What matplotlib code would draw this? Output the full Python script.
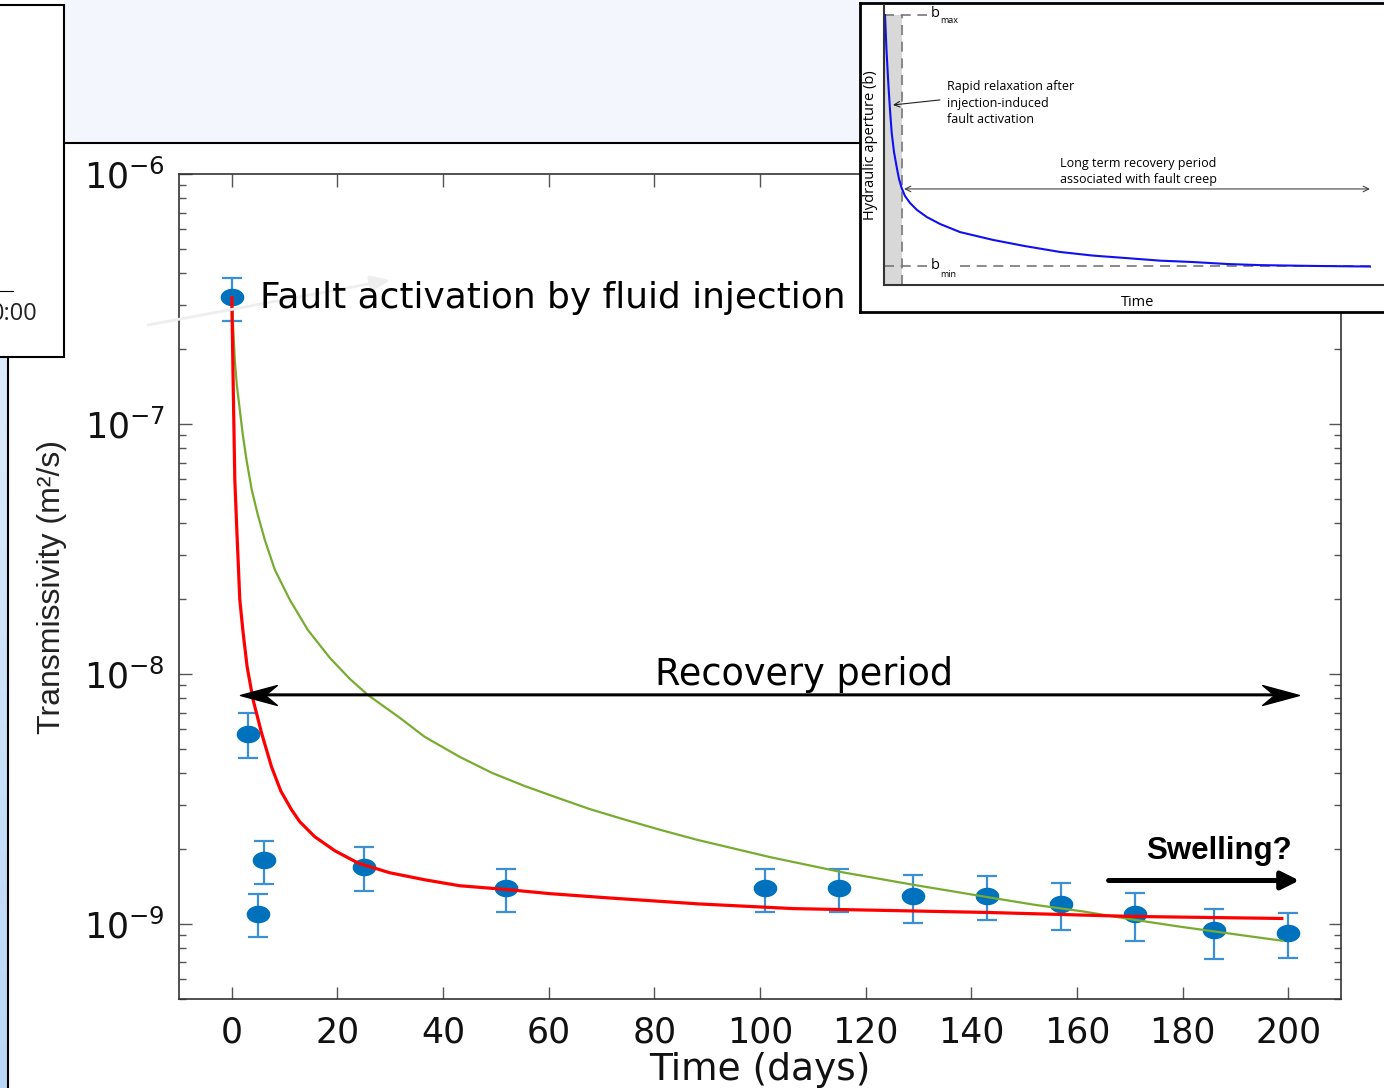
import numpy as np
import matplotlib
matplotlib.use('Agg')
import matplotlib.pyplot as plt
from matplotlib.patches import Rectangle
from matplotlib.lines import Line2D
from matplotlib.path import Path

# ---- data ----
days = [0, 3, 5, 6, 25, 52, 101, 115, 129, 143, 157, 171, 186, 200]
trans = [3.22e-7, 5.75e-9, 1.09e-9, 1.80e-9, 1.68e-9, 1.39e-9, 1.39e-9, 1.39e-9,
         1.29e-9, 1.29e-9, 1.20e-9, 1.09e-9, 9.4e-10, 9.18e-10]
trans_hi = [3.84e-7, 6.96e-9, 1.32e-9, 2.15e-9, 2.02e-9, 1.66e-9, 1.66e-9, 1.66e-9,
            1.56e-9, 1.55e-9, 1.45e-9, 1.33e-9, 1.15e-9, 1.10e-9]
trans_lo = [2.58e-7, 4.60e-9, 8.82e-10, 1.44e-9, 1.35e-9, 1.11e-9, 1.11e-9, 1.11e-9,
            1.01e-9, 1.035e-9, 9.4e-10, 8.55e-10, 7.24e-10, 7.29e-10]

# red fit
red_t = [0, 0.246, 0.568, 0.946, 1.23, 1.51, 2.14, 2.89, 4.03, 5.62, 7.51, 9.27, 11.3,
         12.87, 15.7, 19.5, 23.9, 29.9, 36.5, 43.1, 52.2, 60.2, 71.1, 88.6, 106.3,
         124.5, 142.9, 170.4, 198.8]
red_T = [3.2e-7, 1.50e-7, 5.97e-8, 3.77e-8, 2.73e-8, 1.98e-8, 1.46e-8, 1.07e-8, 7.87e-9,
         5.81e-9, 4.25e-9, 3.40e-9, 2.86e-9, 2.56e-9, 2.23e-9, 1.96e-9, 1.75e-9, 1.60e-9,
         1.50e-9, 1.42e-9, 1.37e-9, 1.32e-9, 1.27e-9, 1.20e-9, 1.15e-9, 1.13e-9, 1.11e-9,
         1.07e-9, 1.05e-9]
# green fit
green_t = [0, 0.284, 0.568, 0.946, 1.51, 2.08, 2.84, 3.78, 4.92, 6.24, 8.14, 10.97, 14.38,
           18.54, 22.33, 25.73, 31.8, 36.5, 43.1, 49.2, 55.4, 61.7, 67.7, 74.4, 81.0, 88.0,
           101.8, 115.4, 129.2, 142.9, 152.1, 161.2, 170.5, 179.6, 189.2, 198.9]
green_T = [3.22e-7, 2.38e-7, 1.80e-7, 1.43e-7, 1.14e-7, 9.04e-8, 7.05e-8, 5.44e-8, 4.33e-8,
           3.44e-8, 2.61e-8, 1.98e-8, 1.50e-8, 1.16e-8, 9.55e-9, 8.24e-9, 6.67e-9, 5.60e-9,
           4.66e-9, 4.02e-9, 3.56e-9, 3.19e-9, 2.88e-9, 2.61e-9, 2.38e-9, 2.17e-9, 1.85e-9,
           1.61e-9, 1.43e-9, 1.28e-9, 1.19e-9, 1.12e-9, 1.04e-9, 9.73e-10, 9.12e-10, 8.55e-10]

# inset sketch curve (arbitrary units)
sketch_t = [0.2, 0.5, 0.86, 1.2, 1.54, 2.0, 2.54, 3.0, 3.54, 4.2, 5.2, 6.6, 8.54, 11.2,
            15.2, 21.8, 28.2, 35.2, 41.8, 48.6, 55.2, 61.8, 68.6, 75.2, 86.2, 97.2]
sketch_b = [0.964, 0.839, 0.721, 0.625, 0.543, 0.475, 0.421, 0.379, 0.346, 0.318, 0.293,
            0.268, 0.243, 0.218, 0.189, 0.161, 0.139, 0.118, 0.105, 0.096, 0.087, 0.082,
            0.075, 0.071, 0.068, 0.066]

W, H = 1384, 1088
plt.rcParams['font.family'] = ['DejaVu Sans']
f_arial = ['Liberation Sans', 'DejaVu Sans']
f_in = ['Open Sans', 'DejaVu Sans']


def fx(x):
    return x / W


def fy(y):
    return 1 - y / H


fig = plt.figure(figsize=(W / 100, H / 100), dpi=100, facecolor='white')

# ---- surrounding page fragments ----
fig.add_artist(Rectangle((fx(64), fy(143)), 1 - fx(64), 143 / H, transform=fig.transFigure,
                         facecolor='#F3F7FD', edgecolor='none', zorder=0))
fig.add_artist(Line2D([fx(64), fx(860)], [fy(143), fy(143)], transform=fig.transFigure,
                      color='black', lw=1.5, zorder=1))
fig.add_artist(Rectangle((fx(-5), fy(357)), fx(69), (357 - 5) / H, transform=fig.transFigure,
                         facecolor='white', edgecolor='black', lw=1.5, zorder=1))
fig.add_artist(Line2D([0, fx(13)], [fy(291), fy(291)], transform=fig.transFigure,
                      color='black', lw=0.8, zorder=2))
fig.text(fx(38), fy(314), '0:00', ha='right', va='center', fontsize=17,
         family=f_in, color='#222222')
strip = fig.add_axes([0, 0, fx(8), (1088 - 357) / H])
strip.imshow(np.linspace(0, 1, 50).reshape(-1, 1), aspect='auto',
             cmap=matplotlib.colors.LinearSegmentedColormap.from_list('s', ['#DCEBFB', '#B9D7F7']))
strip.axis('off')
fig.add_artist(Line2D([fx(8), fx(8)], [0, fy(357)], transform=fig.transFigure,
                      color='black', lw=1.5, zorder=2))

# ---- main axes ----
ax = fig.add_axes([fx(179), fy(999), (1341 - 179) / W, (999 - 174) / H])
ax.set_yscale('log')
ax.set_xlim(-10, 210)
ax.set_ylim(5e-10, 1e-6)
ax.set_xticks(range(0, 201, 20))
ax.tick_params(which='both', direction='in', top=True, right=True, color='#555555')
ax.tick_params(which='major', length=9, width=1)
ax.tick_params(which='minor', length=5, width=1)
ax.tick_params(axis='x', labelsize=25, pad=12, labelcolor='#111111')
ax.tick_params(axis='y', labelsize=25, pad=10, labelcolor='#111111')
for s in ax.spines.values():
    s.set_color('#333333')
    s.set_linewidth(1.2)
ax.set_xlabel('Time (days)', fontsize=27, labelpad=2, color='#111111')

fig.text(fx(52), fy(587), 'Transmissivity (m²/s)', rotation=90, ha='center', va='center',
         fontsize=23, family=f_arial, color='#222222')

ell = np.linspace(0, 2 * np.pi, 60)
ell_marker = Path(np.column_stack([1.38 * np.cos(ell), np.sin(ell)]), closed=True)

t_arr = np.array(trans)
ax.errorbar(days, trans, yerr=[t_arr - np.array(trans_lo), np.array(trans_hi) - t_arr],
            fmt='none', ecolor='#3B8FD3', elinewidth=1.6, capsize=7.5, capthick=1.6, zorder=2)
ax.plot(days, trans, linestyle='none', marker=ell_marker, markersize=16,
        color='#0072BD', zorder=3)
ax.plot(green_t, green_T, color='#77AC30', lw=1.6, zorder=4)
ax.plot(red_t, red_T, color='#FF0000', lw=2.3, zorder=4)

# recovery period double arrow with notched heads
rec_y = 8.24e-9
head_r = Path([(0, 0), (-37, 10), (-25, 0), (-37, -10), (0, 0)], closed=True)
head_l = Path([(0, 0), (37, 10), (25, 0), (37, -10), (0, 0)], closed=True)
ax.annotate('', xy=(200, rec_y), xytext=(3.5, rec_y),
            arrowprops=dict(arrowstyle='-', lw=2.2, color='black', shrinkA=0, shrinkB=0),
            zorder=5)
ax.plot([202], [rec_y], linestyle='none', marker=head_r, markersize=53, color='black',
        zorder=5, clip_on=False)
ax.plot([1.5], [rec_y], linestyle='none', marker=head_l, markersize=53, color='black',
        zorder=5, clip_on=False)
ax.text(108.4, 9.9e-9, 'Recovery period', ha='center', va='center', fontsize=26.4, zorder=5)

ax.annotate('', xy=(202.1, 1.49e-9), xytext=(166, 1.49e-9),
            arrowprops=dict(arrowstyle='-|>,head_length=0.6,head_width=0.3', mutation_scale=18,
                            lw=3.6, color='black', shrinkA=0, shrinkB=0), zorder=5)
ax.text(200.6, 1.96e-9, 'Swelling?', ha='right', va='center', fontsize=22.5,
        fontweight='bold', family=f_arial, zorder=5)
ax.annotate('', xy=(390, H - 280), xycoords='figure pixels', xytext=(148, H - 325),
            textcoords='figure pixels',
            arrowprops=dict(arrowstyle='-|>,head_length=0.6,head_width=0.25', mutation_scale=20,
                            lw=2, color='#EEEEEE', shrinkA=0, shrinkB=0), zorder=4.5)
ax.text(5.3, 3.19e-7, 'Fault activation by fluid injection', ha='left', va='center',
        fontsize=25.8, zorder=6)

# ---- inset sketch ----
box = fig.add_axes([fx(860), fy(312), (1400 - 860) / W, (312 - 3) / H], zorder=10)
box.set_facecolor('white')
box.set_xticks([])
box.set_yticks([])
for s in box.spines.values():
    s.set_linewidth(2)
    s.set_color('black')

ins = fig.add_axes([fx(884), fy(285), (1384 - 884) / W, (285 - 5) / H], zorder=11)
ins.patch.set_alpha(0)
ins.set_xlim(0, 100)
ins.set_ylim(0, 1)
ins.set_xticks([])
ins.set_yticks([])
ins.spines['top'].set_visible(False)
ins.spines['right'].set_visible(False)
for s in ('left', 'bottom'):
    ins.spines[s].set_linewidth(1.5)
    ins.spines[s].set_color('#333333')

ins.fill_between([0, 3.6], 0, 0.964, color='#D8D8D8', lw=0)
dash = dict(color='#777777', lw=1.2, linestyle=(0, (6, 4)))
ins.plot([3.6, 3.6], [0, 0.964], **dash)
ins.plot([0, 8.6], [0.964, 0.964], **dash)
ins.plot([0, 8.6], [0.068, 0.068], **dash)
ins.plot([15.2, 97.2], [0.068, 0.068], **dash)
ins.plot(sketch_t, sketch_b, color='#1010F0', lw=1.5)
ins.text(9.4, 0.971, 'b', ha='left', va='center', fontsize=10.5, family=f_in)
ins.text(11.2, 0.943, 'max', ha='left', va='center', fontsize=6.5, family=f_in)
ins.text(9.4, 0.068, 'b', ha='left', va='center', fontsize=10.5, family=f_in)
ins.text(11.2, 0.039, 'min', ha='left', va='center', fontsize=6.5, family=f_in)
ins.annotate('', xy=(1.8, 0.643), xytext=(11.2, 0.661),
             arrowprops=dict(arrowstyle='->', lw=0.8, color='#222222', shrinkA=0, shrinkB=0))
ins.text(12.6, 0.732, 'Rapid relaxation after\ninjection-induced\nfault activation',
         ha='left', va='top', fontsize=9, linespacing=1.35, family=f_in)
ins.annotate('', xy=(97.2, 0.343), xytext=(4.0, 0.343),
             arrowprops=dict(arrowstyle='<->', lw=0.8, color='#444444', shrinkA=0, shrinkB=0))
ins.text(50.8, 0.405, 'Long term recovery period\nassociated with fault creep',
         ha='center', va='center', multialignment='center', fontsize=9, linespacing=1.35,
         family=f_in)
ins.text(50.8, -0.061, 'Time', ha='center', va='center', fontsize=10.5, family=f_in,
         clip_on=False)
fig.text(fx(870), fy(145), 'Hydraulic aperture (b)', rotation=90, ha='center', va='center',
         fontsize=10.5, family=f_in, zorder=12)

fig.savefig('out.png', dpi=100)
